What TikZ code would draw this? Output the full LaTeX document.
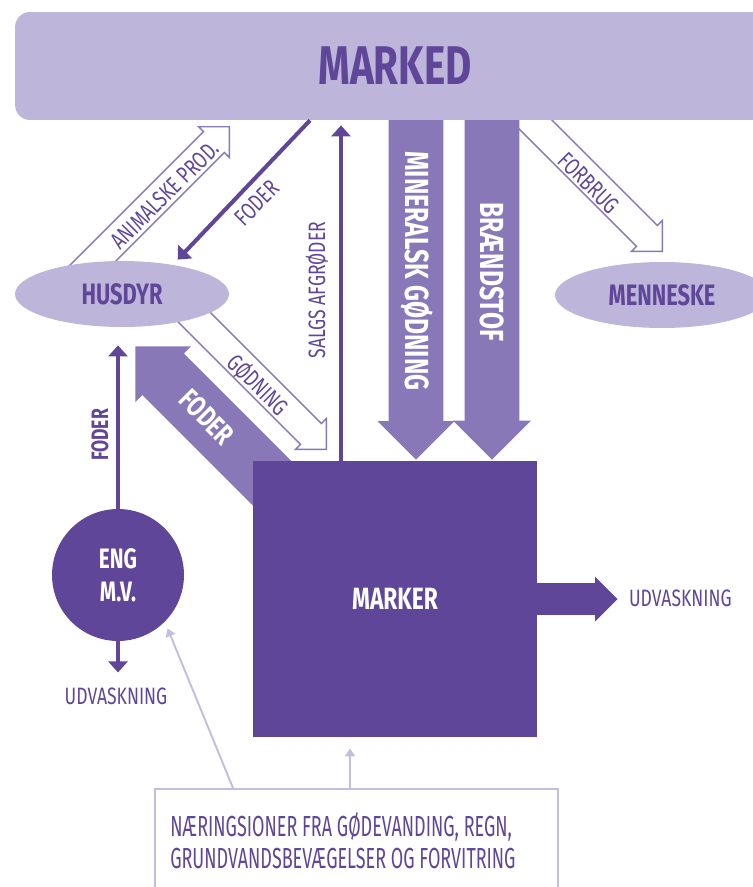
\documentclass[tikz,border=0pt]{standalone}
\usepackage{fontspec}
\setmainfont{Fira Sans}[FakeStretch=0.74]
\newfontfamily\lightfont{Fira Sans}[FakeStretch=0.62]
\usetikzlibrary{shapes.arrows,shapes.geometric,arrows.meta,backgrounds}

\definecolor{lavender}{HTML}{BDB5DA}
\definecolor{midpurple}{HTML}{8878B8}
\definecolor{darkpurple}{HTML}{5F4699}
\definecolor{linelav}{HTML}{C4BDDF}

\tikzset{
	bar/.style={rectangle, rounded corners=0.3cm, fill=lavender, text=darkpurple,
		minimum width=15.2cm, minimum height=2.16cm, font=\fontsize{31}{31}\selectfont\bfseries},
	bubble/.style={ellipse, fill=lavender, text=darkpurple, inner sep=0pt,
		minimum width=4.28cm, minimum height=1.32cm, font=\fontsize{16.8}{17}\selectfont\bfseries},
	field/.style={rectangle, fill=darkpurple, text=white,
		minimum width=5.68cm, minimum height=5.52cm, font=\fontsize{17.5}{18}\selectfont\bfseries},
	meadow/.style={circle, fill=darkpurple, text=white, align=center, inner sep=0pt,
		minimum size=2.64cm, font=\fontsize{16}{18.8}\selectfont\bfseries},
	notebox/.style={rectangle, draw=linelav, line width=1.1pt, minimum width=8.06cm, minimum height=2.6cm},
	notetext/.style={text=darkpurple, align=left, inner sep=0pt, font=\lightfont\fontsize{16.5}{18.2}\selectfont},
	flowtxt/.style={text=darkpurple, inner sep=1pt, font=\fontsize{13.5}{14}\selectfont},
	boldtxt/.style={text=darkpurple, inner sep=1pt, font=\fontsize{13.5}{14}\selectfont\bfseries},
	whitetxt/.style={text=white, inner sep=1pt, font=\fontsize{19}{19}\selectfont\bfseries},
	blockarr/.style={single arrow, fill=midpurple, inner xsep=0pt, anchor=tip,
		single arrow tip angle=90, single arrow head indent=0pt},
	hollowarr/.style={single arrow, draw=midpurple, line width=0.8pt, inner xsep=0pt, anchor=tip,
		inner ysep=0.28cm, single arrow head extend=0.14cm,
		single arrow tip angle=90, single arrow head indent=0pt},
	thinarr/.style={draw=darkpurple, line width=2.3pt, -{Triangle[width=0.38cm,length=0.22cm]}},
	lavarr/.style={draw=linelav, line width=1.1pt, -{Triangle[width=0.2cm,length=0.16cm]}}
}

\begin{document}
\begin{tikzpicture}[x=0.02cm,y=-0.02cm]
\useasboundingbox (0,0) rectangle (753,887);

% boxes
\node[bar] (marked) at (395,66) {MARKED};
\node[bubble] (husdyr) at (122,294) {HUSDYR};
\node[bubble] (menneske) at (662,295) {MENNESKE};
\node[field] (marker) at (395,599) {MARKER};
\node[meadow] (eng) at (118,575) {ENG\\M.V.};
\node[notebox, anchor=north west] (note) at (154,788) {};
\node[notetext, anchor=north west] (notetxt) at (170,812) {NÆRINGSIONER FRA GØDEVANDING, REGN,\\GRUNDVANDSBEVÆGELSER OG FORVITRING};

% wide arrows behind the boxes
\begin{scope}[on background layer]
\node[hollowarr, rotate=-45, minimum height=4cm] (forbrug) at (663,252) {};
\node[hollowarr, rotate=45, minimum height=4.8cm] (animal) at (230,126) {};
\node[hollowarr, rotate=-45, minimum height=4.8cm] (goedning) at (327,450) {};
\node[blockarr, rotate=-90, inner ysep=0.54cm, single arrow head extend=0.22cm, minimum height=7.2cm] (mingod) at (416,460) {};
\node[blockarr, rotate=-90, inner ysep=0.54cm, single arrow head extend=0.23cm, minimum height=7.2cm] (braend) at (492,460) {};
\node[blockarr, rotate=135, inner ysep=0.58cm, single arrow head extend=0.2cm, minimum height=5.1cm] (foder) at (135,346) {};
\node[blockarr, fill=darkpurple, inner ysep=0.31cm, single arrow head extend=0.13cm, minimum height=1.96cm] (udvarr) at (618,599) {};
\end{scope}

% labels
\node[flowtxt, rotate=45] (animaltxt) at (165,195) {ANIMALSKE PROD.};
\node[flowtxt, rotate=45] (fodertxt) at (257,203) {FODER};
\node[flowtxt, rotate=-45] (goedtxt) at (258,385) {GØDNING};
\node[flowtxt, rotate=-45] (forbrugtxt) at (589,183) {FORBRUG};
\node[flowtxt, rotate=90] (salgstxt) at (317,290) {SALGS AFGRØDER};
\node[boldtxt, rotate=90] (engfodtxt) at (100,435) {FODER};
\node[whitetxt, rotate=-90] (mingodtxt) at (417,271) {MINERALSK GØDNING};
\node[whitetxt, rotate=-90] (braendtxt) at (492,272) {BRÆNDSTOF};
\node[whitetxt, rotate=-45, font=\fontsize{16.5}{17}\selectfont\bfseries] (blockfodtxt) at (207,417) {FODER};
\node[flowtxt, anchor=west] (udvright) at (627,598) {UDVASKNING};
\node[flowtxt] (udvleft) at (116,696) {UDVASKNING};

% thin arrows
\coordinate (fodx) at (310,0);
\coordinate (salgsx) at (341,0);
\coordinate (notex) at (350,0);
\coordinate (notey) at (233,0);
\draw[thinarr, shorten >=0.14cm] (marked.south -| fodx) -- (husdyr.30);
\draw[thinarr, shorten >=0.1cm] (marker.north -| salgsx) -- (marked.south -| salgsx);
\draw[thinarr, shorten >=0.36cm] (eng.north) -- (eng.north |- husdyr.south);
\draw[thinarr, shorten >=0.26cm] (eng.south) -- (eng.south |- udvleft.north);
\draw[lavarr, shorten >=0.22cm] (note.north -| notex) -- (marker.south -| notex);
\draw[lavarr, shorten >=0.14cm] (note.north -| notey) -- (eng.-45);
\end{tikzpicture}
\end{document}
